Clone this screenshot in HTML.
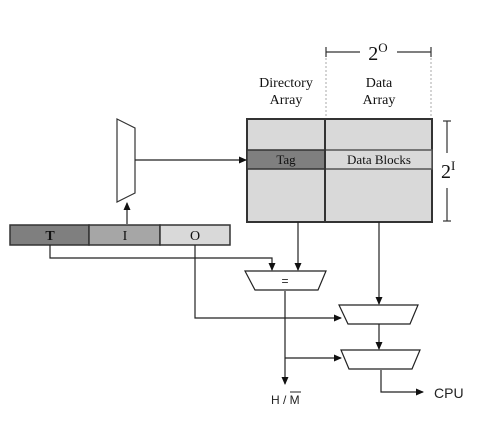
<!DOCTYPE html><html><head><style>body{margin:0;background:#fff}svg{display:block}</style></head><body>
<svg width="480" height="421" viewBox="0 0 480 421" xmlns="http://www.w3.org/2000/svg">
<defs><marker id="a" markerWidth="8" markerHeight="8" refX="7" refY="4" orient="auto" markerUnits="userSpaceOnUse"><path d="M0,0.5 L8,4 L0,7.5z" fill="#111"/></marker></defs>
<g font-family="Liberation Serif, serif" fill="#111">
<text x="286" y="87" font-size="14" text-anchor="middle">Directory</text>
<text x="286" y="104" font-size="14" text-anchor="middle">Array</text>
<text x="379" y="87" font-size="14" text-anchor="middle">Data</text>
<text x="379" y="104" font-size="14" text-anchor="middle">Array</text>
<text x="378" y="60" font-size="20" text-anchor="middle">2<tspan font-size="13" dy="-8">O</tspan></text>
<text x="441" y="178" font-size="20">2<tspan font-size="13" dy="-8">I</tspan></text>
</g>
<g stroke="#333" stroke-width="1.2">
<line x1="326" y1="52" x2="360" y2="52"/><line x1="397" y1="52" x2="431" y2="52"/>
<line x1="326" y1="47" x2="326" y2="57"/><line x1="431" y1="47" x2="431" y2="57"/>
<line x1="447" y1="121" x2="447" y2="153"/><line x1="447" y1="188" x2="447" y2="221"/>
<line x1="443" y1="121" x2="451" y2="121"/><line x1="443" y1="221" x2="451" y2="221"/>
</g>
<g stroke="#aaa" stroke-dasharray="2,2"><line x1="326" y1="58" x2="326" y2="119"/><line x1="431" y1="58" x2="431" y2="119"/></g>
<rect x="247" y="119" width="185" height="103" fill="#d9d9d9" stroke="#333" stroke-width="2"/>
<rect x="247" y="150" width="78" height="19" fill="#7f7f7f" stroke="#333" stroke-width="1.5"/>
<rect x="325" y="150" width="107" height="19" fill="#d9d9d9" stroke="#555" stroke-width="1.5"/>
<line x1="325" y1="119" x2="325" y2="222" stroke="#333" stroke-width="2"/>
<g font-family="Liberation Serif, serif" font-size="13" fill="#111" text-anchor="middle">
<text x="286" y="164">Tag</text><text x="379" y="164">Data Blocks</text></g>
<rect x="10" y="225" width="79" height="20" fill="#7f7f7f" stroke="#333" stroke-width="1.5"/>
<rect x="89" y="225" width="71" height="20" fill="#a6a6a6" stroke="#333" stroke-width="1.5"/>
<rect x="160" y="225" width="70" height="20" fill="#d9d9d9" stroke="#333" stroke-width="1.5"/>
<g font-family="Liberation Serif, serif" font-size="14" fill="#111" text-anchor="middle">
<text x="50" y="240" font-weight="bold">T</text><text x="125" y="240">I</text><text x="195" y="240">O</text></g>
<polygon points="117,119 135,128 135,193 117,202" fill="#fff" stroke="#333" stroke-width="1.2"/>
<g stroke="#222" stroke-width="1.2" fill="none">
<line x1="135" y1="160" x2="246" y2="160" marker-end="url(#a)"/>
<line x1="127" y1="224" x2="127" y2="203" marker-end="url(#a)"/>
<polyline points="50,245 50,258 272,258 272,270" marker-end="url(#a)"/>
<polyline points="195,245 195,318 341,318" marker-end="url(#a)"/>
<line x1="298" y1="222" x2="298" y2="270" marker-end="url(#a)"/>
<line x1="379" y1="222" x2="379" y2="304" marker-end="url(#a)"/>
<line x1="379" y1="324" x2="379" y2="349" marker-end="url(#a)"/>
<line x1="285" y1="291" x2="285" y2="384" marker-end="url(#a)"/>
<line x1="285" y1="358" x2="341" y2="358" marker-end="url(#a)"/>
<polyline points="381,370 381,392 423,392" marker-end="url(#a)"/>
</g>
<polygon points="245,271 326,271 318,290 255,290" fill="#fff" stroke="#222" stroke-width="1.2"/>
<polygon points="339,305 418,305 410,324 348,324" fill="#fff" stroke="#222" stroke-width="1.2"/>
<polygon points="341,350 420,350 412,369 349,369" fill="#fff" stroke="#222" stroke-width="1.2"/>
<g font-family="Liberation Sans, sans-serif" fill="#222">
<text x="285" y="285" font-size="12" text-anchor="middle">=</text>
<text x="434" y="398" font-size="14">CPU</text>
<text x="271" y="404" font-size="12">H / M</text>
</g>
<line x1="290" y1="392" x2="301" y2="392" stroke="#222" stroke-width="1"/>
</svg></body></html>
